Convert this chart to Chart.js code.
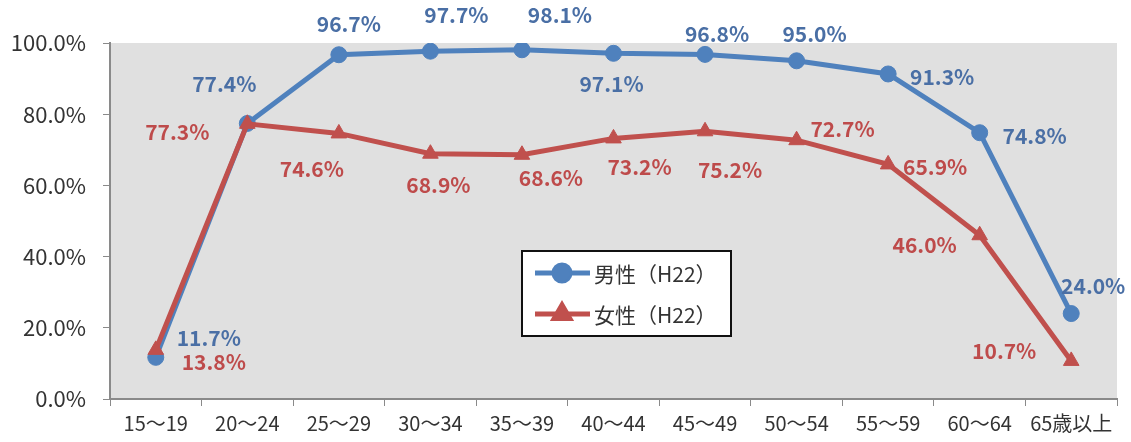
<!DOCTYPE html>
<html>
<head>
<meta charset="utf-8">
<script src="https://cdn.jsdelivr.net/npm/chart.js@4"></script>
<style>
  body { margin: 0; background: #fff; }
  #wrap { width: 1131px; height: 442px; position: relative; }
</style>
</head>
<body>
<div id="wrap"><canvas id="laborChart"></canvas></div>
<script>
const ageGroups = ['15～19', '20～24', '25～29', '30～34', '35～39', '40～44', '45～49', '50～54', '55～59', '60～64', '65歳以上'];
const maleRates = [11.7, 77.4, 96.7, 97.7, 98.1, 97.1, 96.8, 95.0, 91.3, 74.8, 24.0];
const femaleRates = [13.8, 77.3, 74.6, 68.9, 68.6, 73.2, 75.2, 72.7, 65.9, 46.0, 10.7];
const seriesNames = ['男性（H22）', '女性（H22）'];
const yTicks = [0, 20, 40, 60, 80, 100];

// where each value label sits relative to its point (dx, dy)
const maleLabelOffsets = [[53, -19], [-23, -39], [10, -31], [26, -36], [38, -35], [-2, 31], [12, -20], [18, -27], [54, 3], [55, 3], [22, -28]];
const femaleLabelOffsets = [[58, 12], [-70, 8], [-27, 36], [8, 31], [29, 23], [26, 29], [25, 39], [46, -11], [47, 3], [-55, 10], [-67, -10]];

const fontFamily = "'Noto Sans CJK JP', 'Noto Sans', sans-serif";
const blue = '#4F81BD';
const red = '#C0504D';
const axisColor = '#8A8A8A';

const plotBackground = {
    id: 'plotBackground',
    beforeDraw(chart) {
        const { ctx, chartArea } = chart;
        ctx.save();
        ctx.fillStyle = '#E0E0E0';
        ctx.fillRect(chartArea.left, chartArea.top, chartArea.right - chartArea.left, chartArea.bottom - chartArea.top);
        ctx.restore();
    }
};

const valueLabels = {
    id: 'valueLabels',
    afterDatasetsDraw(chart) {
        const ctx = chart.ctx;
        ctx.save();
        ctx.font = 'bold 21px ' + fontFamily;
        ctx.textAlign = 'center';
        ctx.textBaseline = 'middle';
        chart.data.datasets.forEach((ds, i) => {
            const meta = chart.getDatasetMeta(i);
            meta.data.forEach((pt, j) => {
                const off = ds.labelOffsets[j];
                ctx.fillStyle = ds.labelColor;
                ctx.fillText(ds.data[j].toFixed(1) + '%', pt.x + off[0], pt.y + off[1]);
            });
        });
        ctx.restore();
    }
};

// boxed legend inside the plot, like the original
const boxLegend = {
    id: 'boxLegend',
    afterDraw(chart) {
        const { ctx, chartArea } = chart;
        const left = chartArea.left + 412;
        const top = chartArea.top + 208;
        const w = 209, h = 85;
        ctx.save();
        ctx.fillStyle = '#fff';
        ctx.fillRect(left, top, w, h);
        ctx.strokeStyle = '#111';
        ctx.lineWidth = 2;
        ctx.strokeRect(left, top, w, h);
        chart.data.datasets.forEach((ds, i) => {
            const y = top + 22 + i * 41;
            ctx.strokeStyle = ds.borderColor;
            ctx.lineWidth = 5;
            ctx.beginPath();
            ctx.moveTo(left + 13, y);
            ctx.lineTo(left + 68, y);
            ctx.stroke();
            Chart.helpers.drawPoint(ctx, {
                pointStyle: ds.pointStyle,
                radius: ds.pointRadius,
                borderWidth: 1
            }, left + 40, y);
            ctx.fillStyle = ds.borderColor;
            ctx.strokeStyle = ds.borderColor;
            ctx.fill();
            ctx.fillStyle = '#333';
            ctx.font = '21px ' + fontFamily;
            ctx.textAlign = 'left';
            ctx.textBaseline = 'middle';
            ctx.fillText(ds.label, left + 72, y + 1);
        });
        ctx.restore();
    }
};

const ctx = document.getElementById('laborChart').getContext('2d');
new Chart(ctx, {
    type: 'line',
    data: {
        labels: ageGroups,
        datasets: [
            {
                label: seriesNames[0],
                data: maleRates,
                borderColor: blue,
                backgroundColor: blue,
                borderWidth: 5,
                pointStyle: 'circle',
                pointRadius: 8,
                pointBorderWidth: 1,
                labelColor: '#4A6FA5',
                labelOffsets: maleLabelOffsets,
                order: 1
            },
            {
                label: seriesNames[1],
                data: femaleRates,
                borderColor: red,
                backgroundColor: red,
                borderWidth: 5,
                pointStyle: 'triangle',
                pointRadius: 9,
                pointBorderWidth: 1,
                labelColor: '#BE4B4B',
                labelOffsets: femaleLabelOffsets,
                order: 0
            }
        ]
    },
    options: {
        responsive: true,
        maintainAspectRatio: false,
        animation: false,
        layout: { padding: { top: 43, right: 14, left: 0, bottom: 0 } },
        plugins: {
            legend: { display: false },
            tooltip: { enabled: false }
        },
        scales: {
            x: {
                offset: true,
                afterFit: s => { s.height = 43; },
                grid: {
                    offset: true,
                    drawOnChartArea: false,
                    color: axisColor,
                    tickLength: 7
                },
                border: { display: true, color: axisColor, width: 2 },
                ticks: {
                    color: '#333',
                    padding: 5,
                    maxRotation: 0,
                    autoSkip: false,
                    font: { family: fontFamily, size: 20 }
                }
            },
            y: {
                min: 0,
                max: 100,
                afterFit: s => { s.width = 110; },
                afterBuildTicks: s => { s.ticks = yTicks.map(v => ({ value: v })); },
                grid: {
                    drawOnChartArea: false,
                    color: axisColor,
                    tickLength: 7
                },
                border: { display: true, color: axisColor, width: 2 },
                ticks: {
                    color: '#333',
                    padding: 17,
                    font: { family: fontFamily, size: 22 },
                    callback: v => v.toFixed(1) + '%'
                }
            }
        }
    },
    plugins: [plotBackground, valueLabels, boxLegend]
});
</script>
</body>
</html>
